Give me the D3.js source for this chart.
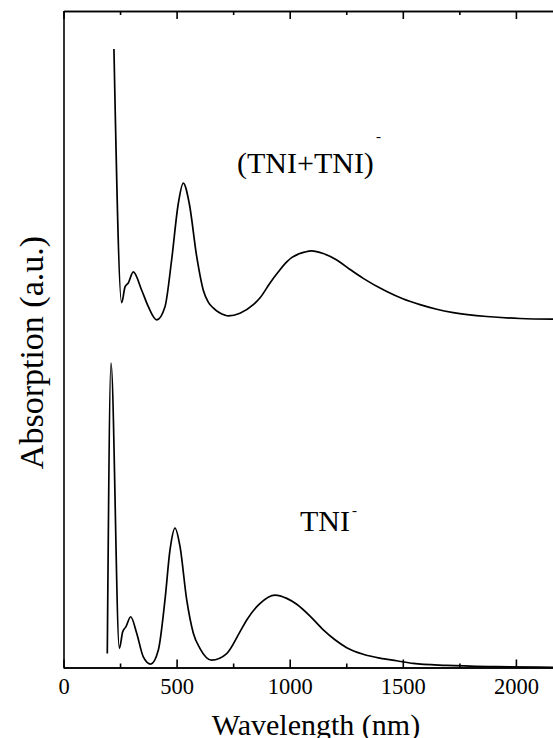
<!DOCTYPE html>
<html>
<head>
<meta charset="utf-8">
<script src="https://cdn.jsdelivr.net/npm/d3@7"></script>
<style>
  html, body { margin: 0; padding: 0; background: #fff; }
  svg { display: block; }
  text { font-family: "Liberation Serif", "Times New Roman", Times, serif; fill: #000; }
</style>
</head>
<body>
<script>
// Wavelength (nm) of each sampled point, and absorption (a.u.) of the two spectra
const dimerWavelength = [223, 257, 272, 286.5, 308.6, 345.7, 375, 412, 448.7, 478, 507.5, 529.6, 556, 589, 618, 640, 662, 714, 729, 780, 839, 870, 913, 950, 987, 1010, 1038, 1065, 1097, 1148, 1208, 1265, 1325, 1429, 1500, 1576, 1650, 1723, 1871, 2018, 2164];
const dimerAbsorption = [0.942, 0.556, 0.580, 0.586, 0.603, 0.575, 0.550, 0.530, 0.550, 0.621, 0.707, 0.738, 0.707, 0.626, 0.575, 0.557, 0.548, 0.537, 0.536, 0.540, 0.553, 0.564, 0.586, 0.603, 0.618, 0.625, 0.630, 0.633, 0.635, 0.631, 0.621, 0.607, 0.593, 0.573, 0.562, 0.553, 0.546, 0.541, 0.535, 0.532, 0.531];

const anionWavelength = [193.6, 210, 247, 261.7, 276.3, 297, 323.6, 352.8, 385.5, 419, 448.7, 471, 493, 515, 544.6, 574, 603, 655, 721.5, 780, 810, 868, 935, 987, 1031, 1090, 1148.5, 1200, 1252, 1325, 1399, 1473, 1546, 1694, 1915, 2164];
const anionAbsorption = [0.022, 0.464, 0.030, 0.055, 0.063, 0.078, 0.053, 0.017, 0.006, 0.027, 0.104, 0.180, 0.213, 0.185, 0.104, 0.053, 0.030, 0.012, 0.022, 0.055, 0.073, 0.098, 0.111, 0.106, 0.097, 0.079, 0.058, 0.043, 0.031, 0.021, 0.015, 0.011, 0.007, 0.004, 0.002, 0.001];

const majorTicks = [0, 500, 1000, 1500, 2000];
const minorTicks = [250, 750, 1250, 1750];

const W = 553, H = 738;
const plotLeft = 63.5, plotTop = 11, plotBottom = 668;

const svg = d3.select("body").append("svg").attr("width", W).attr("height", H);

const x = d3.scaleLinear().domain([0, 2200]).range([plotLeft, plotLeft + 2200 * 0.2262]);
const y = d3.scaleLinear().domain([0, 1]).range([plotBottom, plotTop]);

const serif = "'Liberation Serif', 'Times New Roman', Times, serif";

// frame: left and top edges plus bottom axis
const axisG = svg.append("g");

// bottom axis: major ticks with labels, ticks pointing inward
const bottomMajor = axisG.append("g")
  .attr("transform", `translate(0,${plotBottom - 0.5})`)
  .call(d3.axisBottom(x).tickValues(majorTicks).tickSizeInner(-8).tickSizeOuter(0).tickPadding(0).tickFormat(d3.format("d")));
bottomMajor.selectAll("text")
  .attr("y", 26.5).attr("dy", 0)
  .attr("fill", "#000")
  .style("font-size", "22.5px")
  .style("font-family", serif);

axisG.append("g")
  .attr("transform", `translate(0,${plotBottom - 0.5})`)
  .call(d3.axisBottom(x).tickValues(minorTicks).tickSizeInner(-4).tickSizeOuter(0).tickFormat(""));

// top edge with inward ticks
axisG.append("g")
  .attr("transform", `translate(0,${plotTop})`)
  .call(d3.axisTop(x).tickValues(majorTicks).tickSizeInner(-8).tickSizeOuter(0).tickFormat(""));
axisG.append("g")
  .attr("transform", `translate(0,${plotTop})`)
  .call(d3.axisTop(x).tickValues(minorTicks).tickSizeInner(-4).tickSizeOuter(0).tickFormat(""));

// left edge without ticks
axisG.append("g")
  .attr("transform", `translate(${plotLeft},0)`)
  .call(d3.axisLeft(y).tickValues([]).tickSizeOuter(0));

axisG.selectAll("path.domain").attr("stroke", "#000").attr("stroke-width", 1.6);
axisG.selectAll(".tick line").attr("stroke", "#000").attr("stroke-width", 1.6);

// spectra
const line = d3.line()
  .x(d => x(d[0]))
  .y(d => y(d[1]))
  .curve(d3.curveMonotoneX);

const series = [
  d3.zip(dimerWavelength, dimerAbsorption),
  d3.zip(anionWavelength, anionAbsorption)
];

svg.append("g").selectAll("path")
  .data(series)
  .join("path")
  .attr("d", line)
  .attr("fill", "none")
  .attr("stroke", "#000")
  .attr("stroke-width", 1.7)
  .attr("stroke-linejoin", "round");

// axis titles
svg.append("text")
  .attr("x", 316).attr("y", 735)
  .attr("text-anchor", "middle")
  .style("font-size", "30px")
  .style("font-family", serif)
  .text("Wavelength (nm)");

svg.append("text")
  .attr("transform", "translate(43,352.5) rotate(-90)")
  .attr("text-anchor", "middle")
  .style("font-size", "34px")
  .style("font-family", serif)
  .text("Absorption (a.u.)");

// series labels
const lab1 = svg.append("text")
  .attr("x", 237).attr("y", 173)
  .style("font-size", "30px")
  .style("font-family", serif);
lab1.append("tspan").text("(TNI+TNI)");
lab1.append("tspan").attr("dy", -32).attr("dx", 2).style("font-size", "15px").text("-");

const lab2 = svg.append("text")
  .attr("x", 300).attr("y", 530.5)
  .style("font-size", "30px")
  .style("font-family", serif);
lab2.append("tspan").text("TNI");
lab2.append("tspan").attr("dy", -16).attr("dx", 2).style("font-size", "15px").text("-");
</script>
</body>
</html>
